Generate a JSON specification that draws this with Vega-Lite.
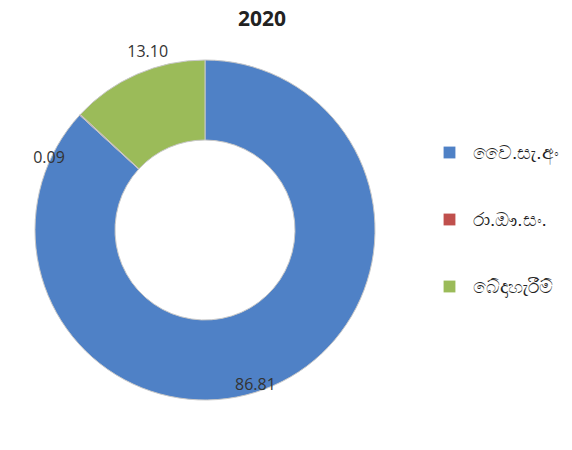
{
  "$schema": "https://vega.github.io/schema/vega-lite/v6.json",
  "width": 410,
  "height": 380,
  "autosize": "none",
  "padding": {"top": 40, "left": 0, "right": 162, "bottom": 30},
  "background": "white",
  "config": {"view": {"stroke": null}},
  "title": {"text": "2020", "fontSize": 21, "fontWeight": "bold", "font": "Open Sans", "color": "#222222", "dx": 57, "offset": 10},
  "data": {"values": [
    {"cat": "වෛ.සැ.අං", "value": 86.81, "idx": 1},
    {"cat": "රා.ඖ.සං.", "value": 0.09, "idx": 2},
    {"cat": "බේදාහැරීම්", "value": 13.10, "idx": 3}
  ]},
  "encoding": {
    "theta": {"field": "value", "type": "quantitative", "stack": true},
    "order": {"field": "idx", "type": "quantitative"}
  },
  "layer": [
    {
      "mark": {"type": "arc", "innerRadius": 90, "outerRadius": 170, "stroke": "#c8c8c8", "strokeWidth": 1},
      "encoding": {
        "color": {
          "field": "cat", "type": "nominal",
          "scale": {"domain": ["වෛ.සැ.අං", "රා.ඖ.සං.", "බේදාහැරීම්"], "range": ["#4F81C6", "#C0504D", "#9BBB59"]},
          "legend": {
            "title": null, "orient": "none", "legendX": 440, "legendY": 103,
            "symbolType": "square", "symbolSize": 140, "symbolStrokeWidth": 0,
            "labelFontSize": 19, "labelColor": "#222222", "rowPadding": 47, "labelOffset": 14, "labelLimit": 200
          }
        }
      }
    },
    {
      "mark": {"type": "text", "radius": 163, "thetaOffset": 0.1, "font": "Open Sans", "fontSize": 16, "color": "#333333"},
      "encoding": {"text": {"condition": {"test": "datum.idx === 1", "field": "value", "format": ".2f"}, "value": ""}}
    },
    {
      "mark": {"type": "text", "radius": 172, "thetaOffset": -0.31, "font": "Open Sans", "fontSize": 16, "color": "#333333"},
      "encoding": {"text": {"condition": {"test": "datum.idx === 2", "field": "value", "format": ".2f"}, "value": ""}}
    },
    {
      "mark": {"type": "text", "radius": 187, "thetaOffset": 0.1, "font": "Open Sans", "fontSize": 16, "color": "#333333"},
      "encoding": {"text": {"condition": {"test": "datum.idx === 3", "field": "value", "format": ".2f"}, "value": ""}}
    }
  ]
}
